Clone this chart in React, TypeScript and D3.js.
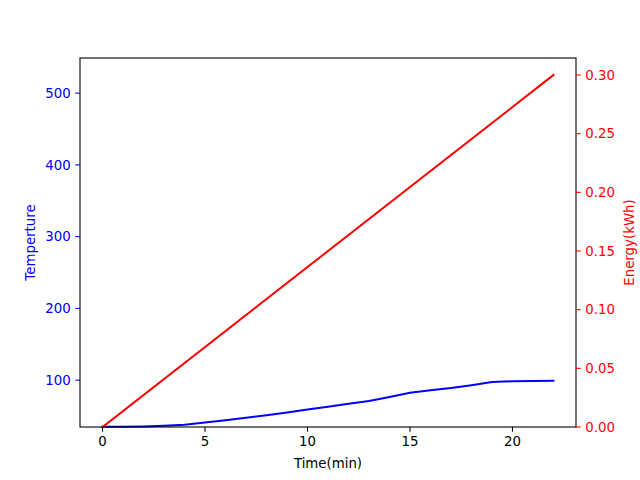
import React from "react";
import * as d3 from "d3";

const minutes = [0, 1, 2, 3, 4, 5, 6, 7, 8, 9, 10, 11, 12, 13, 14, 15, 16, 17, 18, 19, 20, 21, 22];
const temperature = [35, 35, 35.5, 36.5, 38, 41, 44, 47.5, 51, 55, 59, 63, 67, 71, 76.5, 82.5, 86, 89, 93, 97.5, 98.5, 98.8, 99];
const energyTimes = [0, 22];
const energyValues = [0, 0.3];
const xTicks = [0, 5, 10, 15, 20];
const tempTicks = [100, 200, 300, 400, 500];
const energyTicks = [0, 0.05, 0.1, 0.15, 0.2, 0.25, 0.3];

const W = 640, H = 480;
const L = 80, R = 576, T = 58, B = 427;
const FONT = "DejaVu Sans, sans-serif";

export default function App() {
  const x = d3.scaleLinear().domain([-1.1, 23.1]).range([L, R]);
  const yT = d3.scaleLinear().domain([34.7, 549]).range([B, T]);
  const yE = d3.scaleLinear().domain([0, 0.3145]).range([B, T]);

  const tempLine = d3.line<number>().x((_, i) => x(minutes[i])).y((d) => yT(d))(temperature) || "";
  const energyLine = d3.line<number>().x((_, i) => x(energyTimes[i])).y((d) => yE(d))(energyValues) || "";
  const tick = 4.7;

  return (
    <svg width={W} height={H} style={{ position: "absolute", left: 0, top: 0, background: "#fff" }} fontFamily={FONT}>
      <rect x={0} y={0} width={W} height={H} fill="#fff" />
      <path d={tempLine} fill="none" stroke="#0000ff" strokeWidth={2} strokeLinejoin="round" strokeLinecap="square" />
      <path d={energyLine} fill="none" stroke="#ff0000" strokeWidth={2} strokeLinecap="square" />
      <rect x={L} y={T} width={R - L} height={B - T} fill="none" stroke="#000" strokeWidth={1.1} />
      {xTicks.map((t) => (
        <g key={"x" + t}>
          <line x1={x(t)} x2={x(t)} y1={B} y2={B + tick} stroke="#000" strokeWidth={1.1} />
          <text x={x(t)} y={B + 9.3} dy="0.76em" textAnchor="middle" fontSize={13.33} fill="#000">{t}</text>
        </g>
      ))}
      {tempTicks.map((t) => (
        <g key={"t" + t}>
          <line x1={L - tick} x2={L} y1={yT(t)} y2={yT(t)} stroke="#0000ff" strokeWidth={1.1} />
          <text x={L - 9.3} y={yT(t)} dy="0.35em" textAnchor="end" fontSize={13.33} fill="#0000ff">{t}</text>
        </g>
      ))}
      {energyTicks.map((t) => (
        <g key={"e" + t}>
          <line x1={R} x2={R + tick} y1={yE(t)} y2={yE(t)} stroke="#ff0000" strokeWidth={1.1} />
          <text x={R + 9.3} y={yE(t)} dy="0.35em" textAnchor="start" fontSize={13.33} fill="#ff0000">{t.toFixed(2)}</text>
        </g>
      ))}
      <text x={(L + R) / 2} y={468} textAnchor="middle" fontSize={13.33} fill="#000">Time(min)</text>
      <text transform={`translate(35,${(T + B) / 2}) rotate(-90)`} textAnchor="middle" fontSize={13.33} fill="#0000ff">Temperture</text>
      <text transform={`translate(634,${(T + B) / 2}) rotate(-90)`} textAnchor="middle" fontSize={13.33} fill="#ff0000">Energy(kWh)</text>
    </svg>
  );
}
